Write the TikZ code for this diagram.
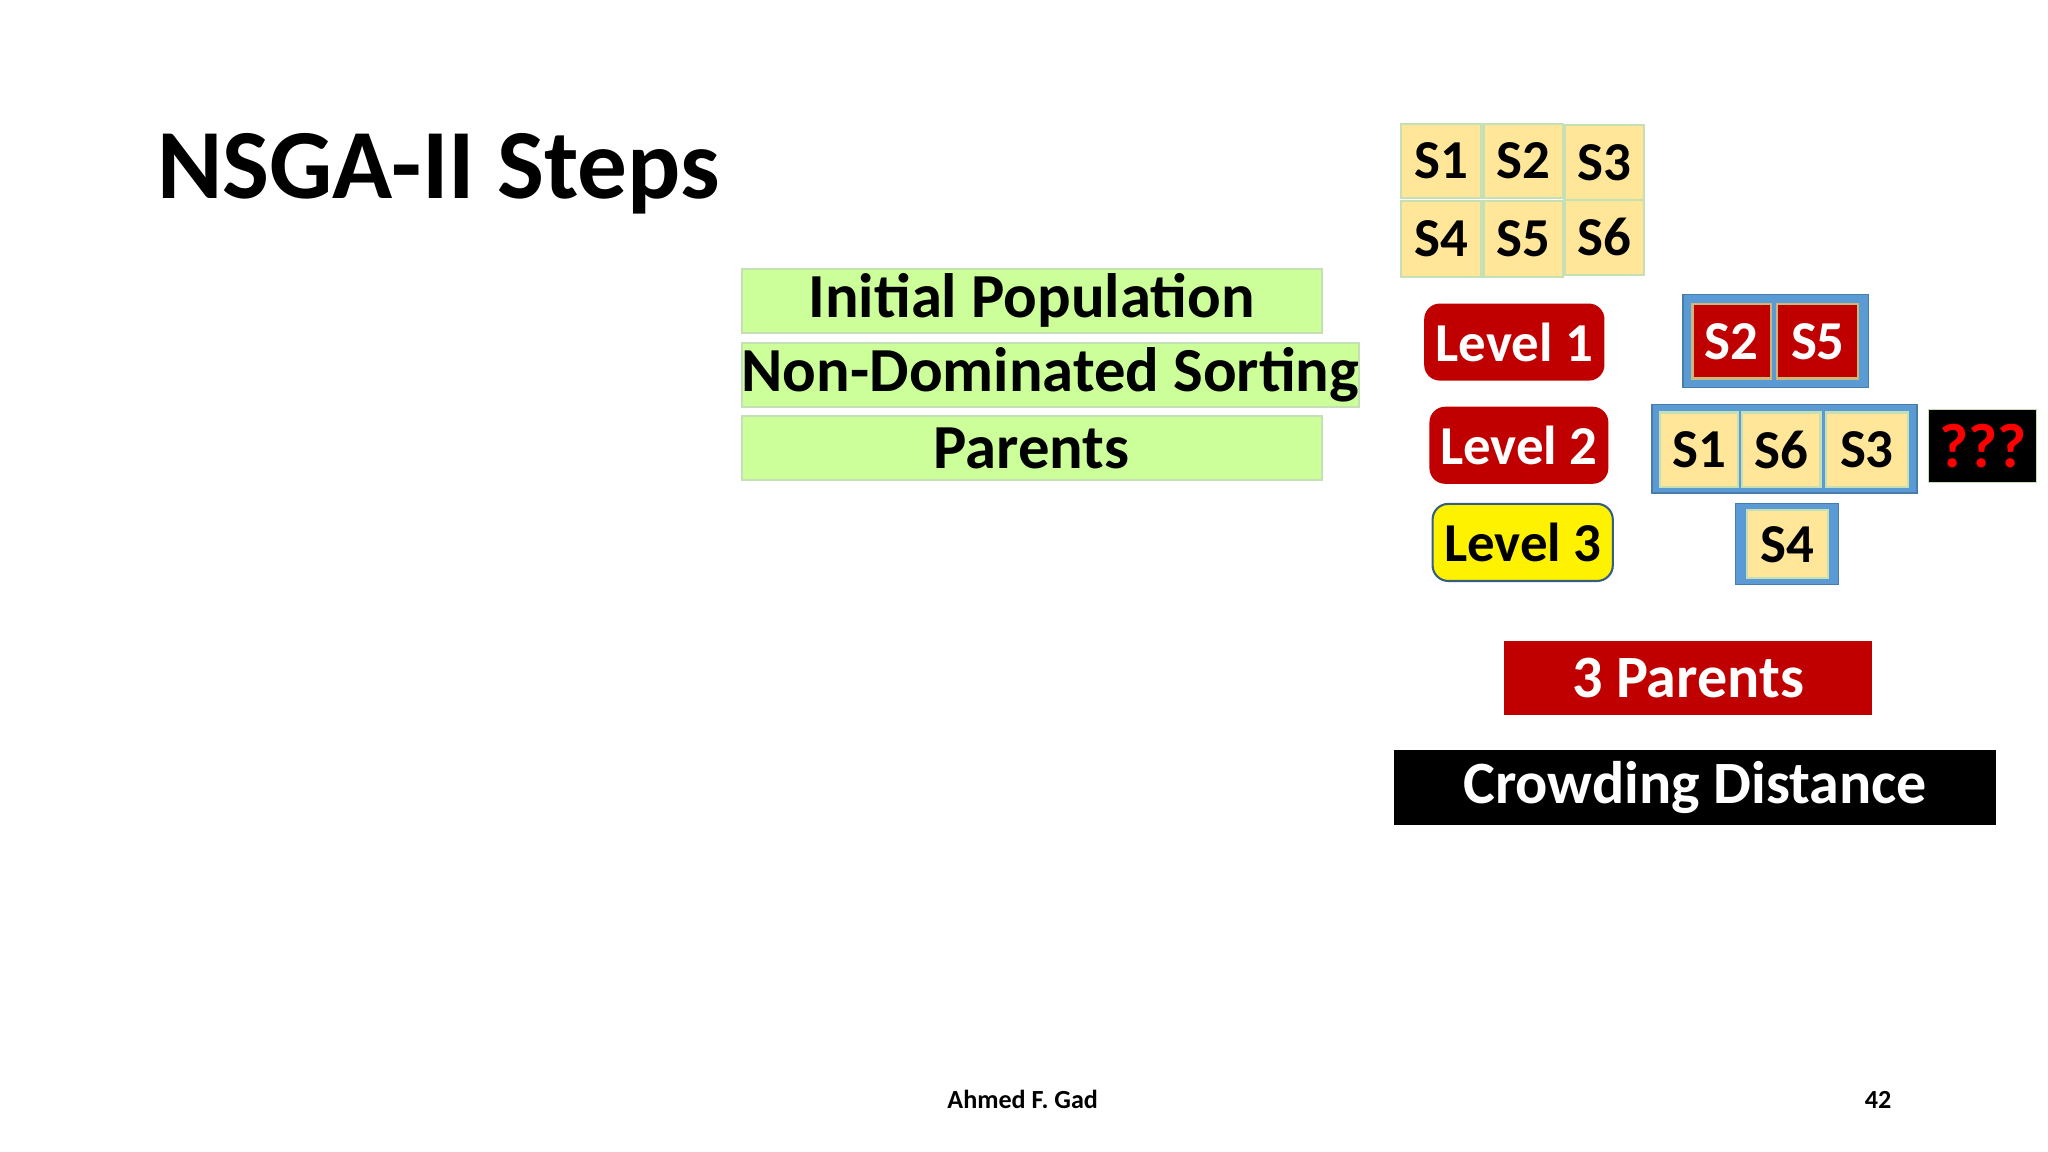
\documentclass[tikz,border=0pt]{standalone}
\usepackage{fontspec}
\setmainfont{Carlito}
\definecolor{grn}{HTML}{CCFF99}
\definecolor{grnb}{HTML}{C5E0B4}
\definecolor{ylw}{HTML}{FFE699}
\definecolor{dred}{HTML}{C00000}
\definecolor{blu}{HTML}{5B9BD5}
\newcommand\mybox[7]{\node[#1,anchor=north west,inner sep=0pt,minimum width={(#5-#3)*0.5pt},minimum height={(#6-#4)*0.5pt}] (#2) at (#3,#4) {#7};}
\begin{document}
\begin{tikzpicture}[x=0.5pt,y=-0.5pt,font=\bfseries,
  stepbox/.style={draw=grnb,fill=grn,line width=0.8pt,font=\fontsize{24}{24}\bfseries\selectfont},
  sol/.style={draw=grnb,fill=ylw,line width=0.8pt,font=\fontsize{21}{21}\bfseries\selectfont},
  solr/.style={draw=ylw!80!black,fill=dred,text=white,line width=0.8pt,font=\fontsize{21}{21}\bfseries\selectfont},
  lvl/.style={fill=dred,text=white,rounded corners=6pt,font=\fontsize{21}{21}\bfseries\selectfont},
  lvly/.style={fill=yellow,draw=blu!60!black,line width=0.8pt,rounded corners=6pt,font=\fontsize{21}{21}\bfseries\selectfont},
  grp/.style={fill=blu,draw=blu!80!black,line width=0.6pt},
  bar/.style={font=\fontsize{23}{23}\bfseries\selectfont,text=white}]
\useasboundingbox (0,0) rectangle (1568,882);
\node[anchor=base west,font=\fontsize{38}{38}\bfseries\selectfont,inner sep=0pt] (title) at (120,152) {NSGA-II Steps};
\mybox{stepbox}{g1}{567}{205}{1011}{254}{Initial Population}
\mybox{stepbox}{g2}{567}{262}{1011}{311}{Non-Dominated Sorting}
\mybox{stepbox}{g3}{567}{318}{1011}{367}{Parents}
\mybox{sol}{a1}{1072}{94}{1133}{151}{S1}
\mybox{sol}{a2}{1135}{94}{1196}{151}{S2}
\mybox{sol}{a3}{1197}{95}{1258}{152}{S3}
\mybox{sol}{a4}{1072}{153}{1133}{211}{S4}
\mybox{sol}{a5}{1135}{153}{1196}{211}{S5}
\mybox{sol}{a6}{1197}{152}{1258}{210}{S6}
\mybox{lvl}{l1}{1090}{232}{1228}{291}{Level 1}
\mybox{lvl}{l2}{1094}{311}{1231}{370}{Level 2}
\mybox{lvly}{l3}{1096}{385}{1234}{444}{Level 3}
\mybox{grp}{b1}{1288}{225}{1430}{296}{}
\mybox{solr}{r2}{1295}{232}{1355}{289}{S2}
\mybox{solr}{r5}{1360}{232}{1422}{289}{S5}
\mybox{grp}{b2}{1264}{309}{1467}{377}{}
\mybox{sol}{c1}{1270}{315}{1330}{372}{S1}
\mybox{sol}{c6}{1333}{315}{1393}{372}{S6}
\mybox{sol}{c3}{1397}{315}{1460}{372}{S3}
\mybox{grp}{b3}{1328}{385}{1407}{447}{}
\mybox{sol}{d4}{1337}{390}{1399}{442}{S4}
\node[draw=grnb,fill=black,text=red,anchor=north west,inner sep=0pt,minimum width=41.5pt,minimum height=28pt,font=\fontsize{24}{24}\bfseries\selectfont] (q) at (1476,313) {???};
\mybox{fill=dred,bar}{p3}{1151}{490}{1433}{547}{3 Parents}
\mybox{fill=black,bar}{cd}{1067}{574}{1528}{631}{Crowding Distance}
\node[font=\fontsize{10}{10}\bfseries\selectfont] (auth) at (783,842) {Ahmed F. Gad};
\node[font=\fontsize{10}{10}\bfseries\selectfont] (pg) at (1438,842) {42};
\end{tikzpicture}
\end{document}
